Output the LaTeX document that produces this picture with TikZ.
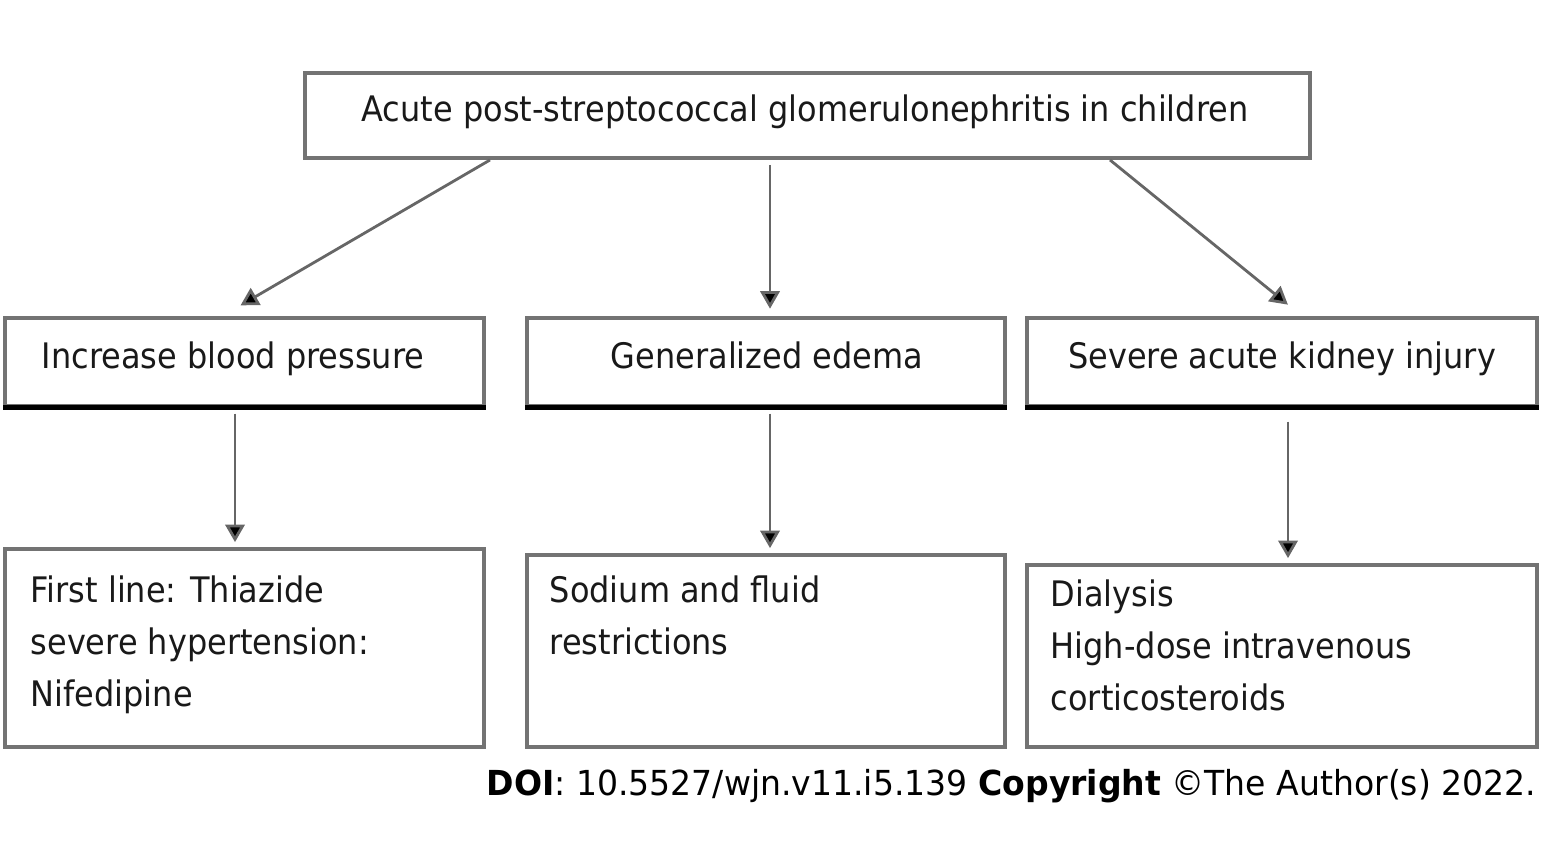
\documentclass[tikz,border=0pt]{standalone}
\usepackage{fontspec}
\setmainfont[FakeStretch=0.91]{DejaVu Sans}
\newfontfamily\doifont[FakeStretch=0.96]{DejaVu Sans}
\usetikzlibrary{arrows.meta}
\begin{document}
\begin{tikzpicture}[
    box/.style={draw=black!55,line width=0.9pt,minimum height=#1,inner sep=0pt},
    box/.default=0.88cm,
    lbl/.style={anchor=base,font=\fontsize{10}{13}\selectfont,text=black!90},
    note/.style={lbl,anchor=north west,align=left,inner sep=0pt,
        font=\fontsize{10}{14.8}\selectfont},
    link/.style={draw=black!60,line width=0.8pt,
        -{Triangle[width=5.5pt,length=5pt,fill=black]},shorten >=1.5pt},
    ]
    \useasboundingbox (0,0) rectangle (15.5,-8.5);
    % top
    \node[box=0.85cm,minimum width=10.05cm] (top) at (8.075,-1.155) {};
    \node[lbl] (toplbl) at (8.05,-1.22) {Acute post-streptococcal glomerulonephritis in children};
    % effects
    \node[box,minimum width=4.79cm] (bp) at (2.445,-3.62) {};
    \node[box,minimum width=4.78cm] (edema) at (7.66,-3.62) {};
    \node[box,minimum width=5.10cm] (aki) at (12.82,-3.62) {};
    \foreach \n in {bp,edema,aki}
        \draw[line width=1.3pt] (\n.south west) -- (\n.south east);
    \node[lbl] (bplbl) at (2.33,-3.69) {Increase blood pressure};
    \node[lbl] (edemalbl) at (7.67,-3.69) {Generalized edema};
    \node[lbl] (akilbl) at (12.82,-3.69) {Severe acute kidney injury};
    % treatments
    \node[box=1.98cm,minimum width=4.79cm] (tbp) at (2.445,-6.48) {};
    \node[box=1.92cm,minimum width=4.78cm] (tedema) at (7.66,-6.51) {};
    \node[box=1.82cm,minimum width=5.10cm] (taki) at (12.82,-6.56) {};
    \node[note] (tbplbl) at (0.30,-5.75) {First line: Thiazide\\severe hypertension:\\Nifedipine};
    \node[note] (tedemalbl) at (5.49,-5.75) {Sodium and fluid\\restrictions};
    \node[note] (takilbl) at (10.50,-5.79) {Dialysis\\High-dose intravenous\\corticosteroids};
    % arrows
    \coordinate (s1) at (4.90,-1.60);
    \coordinate (s2) at (7.70,-1.65);
    \coordinate (s3) at (11.10,-1.60);
    \draw[link] (s1) -- (2.36,-3.08);
    \draw[link] (s2) -- (7.70,-3.14);
    \draw[link] (s3) -- (12.92,-3.08);
    \draw[link] ([yshift=-0.06cm]bp.south -| 2.35,0) -- (tbp.north -| 2.35,0);
    \draw[link] ([yshift=-0.06cm]edema.south -| 7.70,0) -- (tedema.north -| 7.70,0);
    \draw[link] ([yshift=-0.14cm]aki.south -| 12.88,0) -- (taki.north -| 12.88,0);
    % source line
    \node[anchor=base east,inner sep=0pt,font=\doifont\fontsize{9.8}{13}\selectfont] (doi) at (15.37,-7.96)
        {\textbf{DOI}: 10.5527/wjn.v11.i5.139 \textbf{Copyright} ©The Author(s) 2022.};
\end{tikzpicture}
\end{document}
